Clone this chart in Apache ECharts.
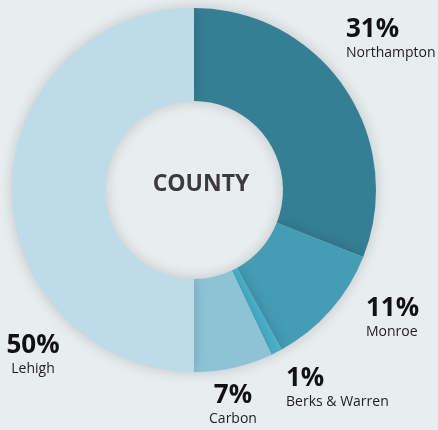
<!DOCTYPE html>
<html>
<head>
<meta charset="utf-8">
<script src="https://cdn.jsdelivr.net/npm/echarts@6/dist/echarts.min.js"></script>
<style>
  html, body { margin: 0; padding: 0; background: #e8edf0; }
  #chart { width: 438px; height: 430px; }
</style>
</head>
<body>
<div id="chart"></div>
<script>
// county share, clockwise from 12 o'clock
const counties = ['Northampton', 'Monroe', 'Berks & Warren', 'Carbon', 'Lehigh'];
const shares = [31, 11, 1, 7, 50];
const colors = ['#357f94', '#449db4', '#49b2cb', '#8ec3d6', '#bddce7'];

// label placement [x, y, align]
const labelPos = [
  [346, 16, 'left'],
  [366, 295, 'left'],
  [286, 365, 'left'],
  [233, 382, 'center'],
  [33, 332, 'center']
];

const chart = echarts.init(document.getElementById('chart'));

chart.setOption({
  backgroundColor: '#e8edf0',
  animation: false,
  title: {
    text: 'COUNTY',
    left: 196,
    top: 179,
    textAlign: 'center',
    textVerticalAlign: 'middle',
    textStyle: {
      fontFamily: 'Open Sans',
      fontWeight: 'bold',
      fontSize: 23,
      color: '#3b3b3b'
    }
  },
  series: [{
    type: 'pie',
    center: [194, 190],
    radius: [89, 182],
    startAngle: 90,
    clockwise: true,
    avoidLabelOverlap: false,
    itemStyle: {
      borderWidth: 0,
      shadowBlur: 14,
      shadowColor: 'rgba(0,0,0,0.18)'
    },
    emphasis: { disabled: true },
    labelLine: { show: false },
    label: {
      show: true,
      position: 'outside',
      overflow: 'none',
      fontFamily: 'Open Sans',
      formatter: function (p) {
        return '{p|' + p.value + '%}\n{n|' + p.name + '}';
      },
      rich: {
        p: { fontFamily: 'Open Sans', fontWeight: 'bold', fontSize: 26, lineHeight: 28, color: '#111' },
        n: { fontFamily: 'Open Sans', fontSize: 14, lineHeight: 18, color: '#222' }
      }
    },
    labelLayout: function (params) {
      const pos = labelPos[params.dataIndex];
      return { x: pos[0], y: pos[1], align: pos[2], verticalAlign: 'top', hideOverlap: false };
    },
    data: counties.map(function (name, i) {
      return { name: name, value: shares[i], itemStyle: { color: colors[i] } };
    })
  }]
});
</script>
</body>
</html>
